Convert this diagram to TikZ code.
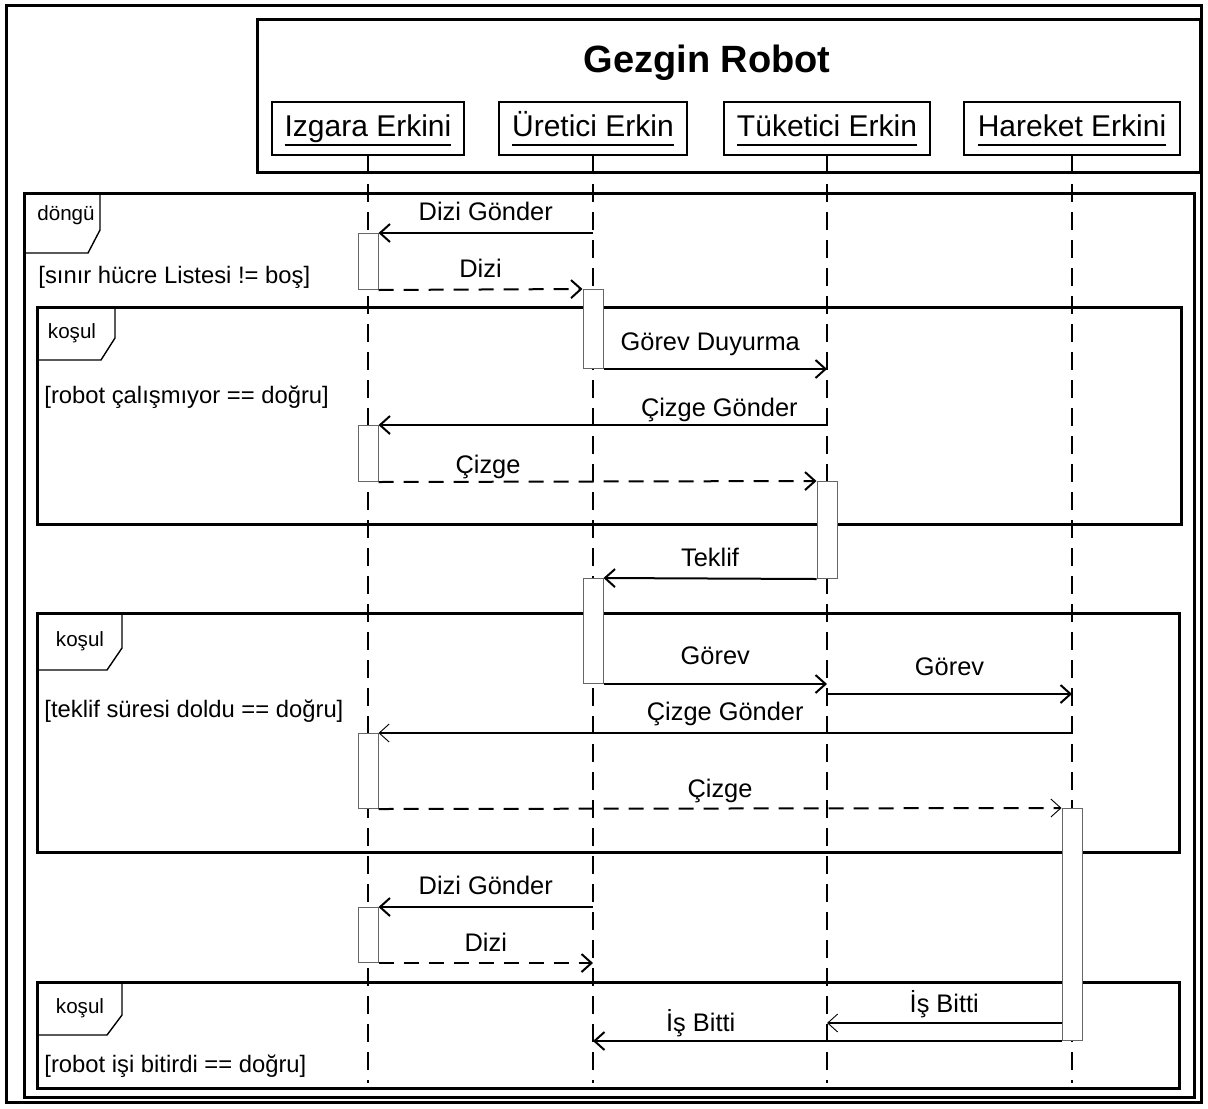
\documentclass[tikz,border=0pt]{standalone}
\usepackage{fontspec}
\setmainfont{Liberation Sans}
\usetikzlibrary{arrows.meta}
\tikzset{
  frame/.style={black, line width=1.5pt},
  tag/.style={black, line width=0.7pt},
  lifebox/.style={draw, line width=1.3pt, minimum height=26.5pt, inner sep=0pt, font=\fontsize{15}{18}\selectfont},
  lifeline/.style={line width=1.4pt, dash pattern=on 9pt off 5pt},
  act/.style={draw=black!60, fill=white, line width=0.5pt, minimum width=10pt, inner sep=0pt, anchor=north},
  msg/.style={line width=1pt, -{Straight Barb[length=5pt,width=9pt,line width=1pt]}},
  thinmsg/.style={line width=1pt, -{Straight Barb[length=5pt,width=9pt,line width=0.45pt]}},
  ret/.style={msg, dash pattern=on 7.5pt off 5pt},
  lbl/.style={font=\fontsize{12.7}{15}\selectfont, anchor=base, inner sep=0pt, yshift=6pt},
  guard/.style={font=\fontsize{11.9}{14}\selectfont, anchor=west, inner sep=0pt},
  tagtext/.style={font=\fontsize{10.3}{12}\selectfont, inner sep=0pt}
}
\newsavebox\lnbox
\newcommand{\lname}[1]{\sbox\lnbox{#1\vphantom{Ü}}\rlap{\rule[-4.5pt]{\wd\lnbox}{0.9pt}}\usebox\lnbox}

\begin{document}
\begin{tikzpicture}[x=0.5pt,y=-0.5pt]
  \useasboundingbox[fill=white] (0,0) rectangle (1208,1108);
  \draw[frame] (6,5) rectangle (1201,1102);

  % system box with the lifeline heads
  \draw[frame] (257,19) rectangle (1200,172);
  \node[font=\bfseries\fontsize{19}{22}\selectfont] (title) at (707,63) {Gezgin Robot};
  \node[lifebox, minimum width=96pt]  (izg) at (368,128.5)  {\lname{Izgara Erkini}};
  \node[lifebox, minimum width=94pt]  (ure) at (593,128.5)  {\lname{Üretici Erkin}};
  \node[lifebox, minimum width=103pt] (tuk) at (827,128.5)  {\lname{Tüketici Erkin}};
  \node[lifebox, minimum width=108pt] (har) at (1072,128.5) {\lname{Hareket Erkini}};

  \coordinate (bot) at (0,1083);
  \foreach \l in {izg,ure,tuk,har}
    \draw[lifeline] (\l.south) -- (\l.south |- bot);

  % fragments
  \draw[frame] (24,193) rectangle (1194,1097);
  \draw[tag] (24,193) -| (100,230) -- (88,253) -- (24,253);
  \node[tagtext] (loop) at (66,215) {döngü};
  \node[guard] (g1) at (38,277) {[sınır hücre Listesi != boş]};

  \draw[frame] (37,307) rectangle (1181,524);
  \draw[tag] (37,307) -| (115,338) -- (101,360) -- (37,360);
  \node[tagtext] (alt1) at (72,333) {koşul};
  \node[guard] (g2) at (44,397) {[robot çalışmıyor == doğru]};

  \draw[frame] (37,613) rectangle (1179,852);
  \draw[tag] (37,613) -| (122,648) -- (107,670) -- (37,670);
  \node[tagtext] (alt2) at (80,641) {koşul};
  \node[guard] (g3) at (44,711) {[teklif süresi doldu == doğru]};

  \draw[frame] (37,982) rectangle (1179,1088);
  \draw[tag] (37,982) -| (122,1015) -- (107,1035) -- (37,1035);
  \node[tagtext] (alt3) at (80,1008) {koşul};
  \node[guard] (g4) at (44,1066) {[robot işi bitirdi == doğru]};

  % activations
  \node[act, minimum height=28pt]   (a1) at (368,233) {};
  \node[act, minimum height=39.5pt] (a2) at (593,289) {};
  \node[act, minimum height=28pt]   (a3) at (368,425) {};
  \node[act, minimum height=48.5pt] (a4) at (827,481) {};
  \node[act, minimum height=52.5pt] (a5) at (593,578) {};
  \node[act, minimum height=37.5pt] (a6) at (368,733) {};
  \node[act, minimum height=116pt]  (a7) at (1072,808) {};
  \node[act, minimum height=27.5pt] (a8) at (368,907) {};

  % messages
  \draw[msg] (a1.north east -| ure) -- (a1.north east) node[lbl, midway, yshift=0.5pt] {Dizi Gönder};
  \draw[ret] (a1.south east) -- (a2.north west) node[lbl, midway] {Dizi};
  \draw[msg] (a2.south east) -- (a2.south east -| tuk) node[lbl, midway, xshift=-2.5pt, yshift=3.5pt] {Görev Duyurma};
  \draw[msg] (a3.north east -| tuk) -- (a3.north east) node[lbl, pos=0.24, yshift=-1.5pt] {Çizge Gönder};
  \draw[ret] (a3.south east) -- (a4.north west) node[lbl, pos=0.25, yshift=-2pt] {Çizge};
  \draw[msg] (a4.south west) -- (a5.north east) node[lbl, midway] {Teklif};
  \draw[msg] (a5.south east) -- (a5.south east -| tuk) node[lbl, midway, yshift=4pt] {Görev};
  \draw[msg] ([yshift=-5pt]a5.south east -| tuk) -- ([yshift=-5pt]a5.south east -| har) node[lbl, midway, yshift=3.5pt] {Görev};
  \draw[thinmsg] (a6.north east -| har) -- (a6.north east) node[lbl, midway, yshift=0.5pt] {Çizge Gönder};
  \draw[ret, thinmsg] (a6.south east) -- (a7.north west) node[lbl, midway, yshift=-0.5pt] {Çizge};
  \draw[msg] (a8.north east -| ure) -- (a8.north east) node[lbl, midway, yshift=0.5pt] {Dizi Gönder};
  \draw[ret] (a8.south east) -- (a8.south east -| ure) node[lbl, midway] {Dizi};
  \draw[thinmsg] ([yshift=9pt]a7.south west) -- ([yshift=9pt]a7.south west -| tuk) node[lbl, midway, yshift=-0.5pt] {İş Bitti};
  \draw[msg] (a7.south west) -- (a7.south west -| ure) node[lbl, pos=0.77, yshift=-1pt] {İş Bitti};
\end{tikzpicture}
\end{document}
